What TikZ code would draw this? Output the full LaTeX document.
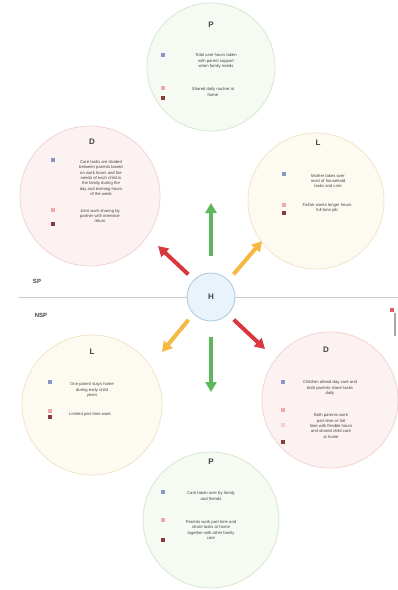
\documentclass[tikz,border=0pt]{standalone}
\usetikzlibrary{arrows.meta}
\usepackage{fontspec}
\setmainfont{Liberation Sans}
\definecolor{pfill}{HTML}{F5FAF3}
\definecolor{pdraw}{HTML}{D6E8D0}
\definecolor{dfill}{HTML}{FDF2F2}
\definecolor{ddraw}{HTML}{F3D2D2}
\definecolor{lfill}{HTML}{FDFAF1}
\definecolor{ldraw}{HTML}{F1E4C8}
\definecolor{hfill}{HTML}{E8F3FB}
\definecolor{hdraw}{HTML}{A9C8E0}
\definecolor{mblue}{HTML}{8C95C8}
\definecolor{mpink}{HTML}{F0A8A8}
\definecolor{mdark}{HTML}{8A3A3A}
\definecolor{agreen}{HTML}{5DB85C}
\definecolor{ared}{HTML}{D9363E}
\definecolor{aorange}{HTML}{F5B841}
\definecolor{txt}{HTML}{444444}
\tikzset{
  bubble/.style={circle, line width=0.8pt, inner sep=0pt},
  pbub/.style={bubble, fill=pfill, draw=pdraw},
  dbub/.style={bubble, fill=dfill, draw=ddraw},
  lbub/.style={bubble, fill=lfill, draw=ldraw},
  ttl/.style={font=\bfseries\fontsize{8}{9}\selectfont, text=txt},
  itm/.style={font=\fontsize{4.2}{5.4}\selectfont, text=txt, align=center, inner sep=0pt},
  mk/.style={minimum size=3.5pt, inner sep=0pt},
  bigarrow/.style={line width=4pt, -{Triangle[width=11pt,length=10pt]}, shorten <=2pt},
  side/.style={font=\bfseries\fontsize{6}{7}\selectfont, text=txt}
}
\begin{document}
\begin{tikzpicture}[x=1pt,y=-1pt]
\useasboundingbox (0,0) rectangle (398,590);
\fill[white] (0,0) rectangle (398,590);
% separator line
\coordinate (lineL) at (18,297);
\coordinate (lineR) at (398,297);
\draw[gray!40, line width=1pt] (lineL) -- (lineR);
\node[side] (sp) at (37,281) {SP};
\node[side] (nsp) at (41,315) {NSP};
% bubbles
\node[pbub, minimum size=128pt] (Ptop) at (211,67) {};
\node[dbub, minimum size=140pt] (Dtop) at (90,196) {};
\node[lbub, minimum size=136pt] (Ltop) at (316,201) {};
\node[lbub, minimum size=140pt] (Lbot) at (92,405) {};
\node[dbub, minimum size=136pt] (Dbot) at (330,400) {};
\node[pbub, minimum size=136pt] (Pbot) at (211,520) {};
% center
\node[circle, fill=hfill, draw=hdraw, line width=0.8pt, minimum size=48pt, font=\bfseries\fontsize{8}{9}\selectfont, text=txt] (H) at (211,297) {H};
% arrows
\coordinate (gUp) at (211,203);
\coordinate (rUL) at (158,246);
\coordinate (oUR) at (262,241);
\coordinate (oBL) at (162,352);
\coordinate (gDn) at (211,392);
\coordinate (rBR) at (265,349);
\draw[bigarrow, agreen] (211,258) -- (gUp);
\draw[bigarrow, ared] (H.135) ++(-4,-4) -- (rUL);
\draw[bigarrow, aorange] (H.45) ++(4,-4) -- (oUR);
\draw[bigarrow, aorange] (H.-135) ++(-4,4) -- (oBL);
\draw[bigarrow, agreen] (H.south) ++(0,14) -- (gDn);
\draw[bigarrow, ared] (H.-45) ++(4,4) -- (rBR);
% ---- top P
\node[ttl] (tP1) at (211,25) {P};
\node[mk, fill=mblue] (mP1a) at (163,55) {};
\node[itm] (xP1a) at (216,61) {Total care hours taken\\with parent support\\when family needs};
\node[mk, fill=mpink] (mP1b) at (163,88) {};
\node[mk, fill=mdark] (mP1c) at (163,98) {};
\node[itm] (xP1b) at (213,92) {Shared daily routine at\\home};
% ---- top D
\node[ttl] (tD1) at (92,142) {D};
\node[mk, fill=mblue] (mD1a) at (53,160) {};
\node[itm] (xD1a) at (101,178) {Care tasks are divided\\between parents based\\on work hours and the\\needs of each child in\\the family during the\\day and evening hours\\of the week};
\node[mk, fill=mpink] (mD1b) at (53,210) {};
\node[mk, fill=mdark] (mD1c) at (53,224) {};
\node[itm] (xD1b) at (100,216) {Joint work sharing by\\partner with intensive\\return};
% ---- top L
\node[ttl] (tL1) at (318,143) {L};
\node[mk, fill=mblue] (mL1a) at (284,174) {};
\node[itm] (xL1a) at (328,181) {Mother takes over\\most of household\\tasks and care};
\node[mk, fill=mpink] (mL1b) at (284,205) {};
\node[mk, fill=mdark] (mL1c) at (284,213) {};
\node[itm] (xL1b) at (327,208) {Father works longer hours\\full-time job};
% ---- bottom L
\node[ttl] (tL2) at (92,352) {L};
\node[mk, fill=mblue] (mL2a) at (50,382) {};
\node[itm] (xL2a) at (92,390) {One parent stays home\\during early child\\years};
\node[mk, fill=mpink] (mL2b) at (50,411) {};
\node[mk, fill=mdark] (mL2c) at (50,417) {};
\node[itm] (xL2b) at (90,414) {Limited part-time work};
% ---- bottom D
\node[ttl] (tD2) at (326,350) {D};
\node[mk, fill=mblue] (mD2a) at (283,382) {};
\node[itm] (xD2a) at (330,388) {Children attend day care and\\both parents share tasks\\daily};
\node[mk, fill=mpink] (mD2b) at (283,410) {};
\node[mk, fill=mpink!60] (mD2c) at (283,425) {};
\node[mk, fill=mdark] (mD2d) at (283,442) {};
\node[itm] (xD2b) at (331,426) {Both parents work\\part-time or full\\time with flexible hours\\and shared child care\\at home};
% ---- bottom P
\node[ttl] (tP2) at (211,462) {P};
\node[mk, fill=mblue] (mP2a) at (163,492) {};
\node[itm] (xP2a) at (211,496) {Care taken over by family\\and friends};
\node[mk, fill=mpink] (mP2b) at (163,520) {};
\node[mk, fill=mdark] (mP2c) at (163,540) {};
\node[itm] (xP2b) at (211,530) {Parents work part-time and\\share tasks at home\\together with other family\\care};
% right edge fragment
\node[mk, fill=ared!80, minimum size=4pt] (edgeMk) at (392,310) {};
\coordinate (edgeTop) at (395,313);
\coordinate (edgeBot) at (395,336);
\draw[gray!70, line width=2pt] (edgeTop) -- (edgeBot);
\end{tikzpicture}
\end{document}
